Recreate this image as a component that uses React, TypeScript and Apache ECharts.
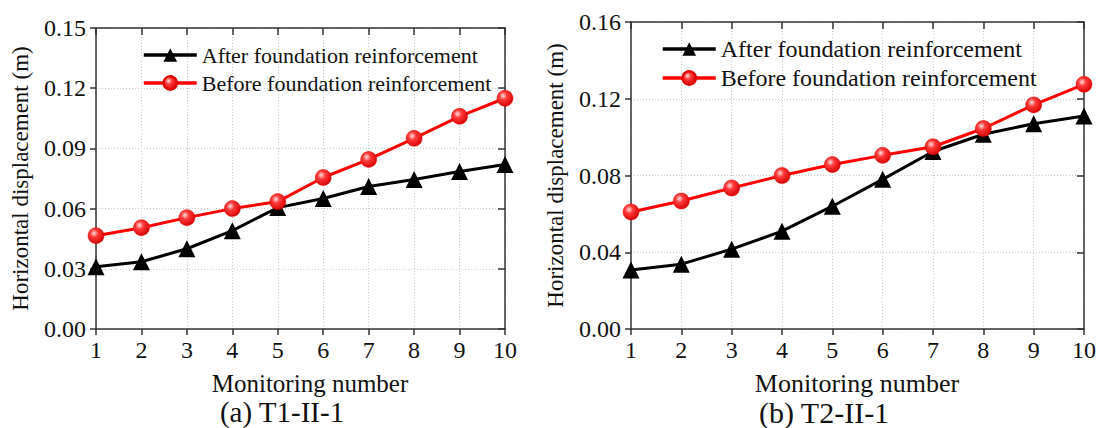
import React, { useEffect, useRef } from "react";
import * as echarts from "echarts";

const monitoringNumbers = [1, 2, 3, 4, 5, 6, 7, 8, 9, 10];
const t1After = [0.031, 0.0335, 0.040, 0.049, 0.0605, 0.065, 0.071, 0.0745, 0.0785, 0.082];
const t1Before = [0.0465, 0.0505, 0.0555, 0.060, 0.0635, 0.0755, 0.0845, 0.095, 0.106, 0.115];
const t2After = [0.0307, 0.0338, 0.0416, 0.051, 0.064, 0.078, 0.0925, 0.1015, 0.107, 0.111];
const t2Before = [0.061, 0.0667, 0.0735, 0.080, 0.0857, 0.0905, 0.095, 0.1045, 0.1168, 0.1275];
const seriesNames = ["After foundation reinforcement", "Before foundation reinforcement"];
const xTitle = "Monitoring number";
const yTitle = "Horizontal displacement (m)";
const captions = ["(a) T1-II-1", "(b) T2-II-1"];

const FONT = "'Liberation Serif', 'Times New Roman', serif";
const AXIS_COLOR = "#333";
const TEXT = "#111";

const redBall = {
  type: "radial",
  x: 0.38,
  y: 0.35,
  r: 0.7,
  colorStops: [
    { offset: 0, color: "#ffe0e0" },
    { offset: 0.35, color: "#ff3a3a" },
    { offset: 1, color: "#d40000" },
  ],
};

function pairs(ys: number[]) {
  return monitoringNumbers.map((x, i) => [x, ys[i]]);
}

export default function App() {
  const ref = useRef<HTMLDivElement>(null);
  useEffect(() => {
    if (!ref.current) return;
    const chart = echarts.init(ref.current, null, { renderer: "svg" });
    const grids = [
      { left: 96, top: 28, width: 409, height: 301 },
      { left: 631, top: 22, width: 455, height: 307 },
    ];
    const yMax = [0.15, 0.16];
    const yInt = [0.03, 0.04];
    const xAxes: any[] = [];
    const yAxes: any[] = [];
    [0, 1].forEach((g) => {
      xAxes.push({
        type: "value",
        gridIndex: g,
        min: 1,
        max: 10,
        interval: 1,
        axisLine: { show: true, lineStyle: { color: AXIS_COLOR, width: 1.5 } },
        axisTick: { show: true, inside: false, length: 6, lineStyle: { color: AXIS_COLOR, width: 1.5 } },
        axisLabel: { fontFamily: FONT, fontSize: 24, color: TEXT, margin: 9 },
        splitLine: { show: true, lineStyle: { color: "#c8c8c8", type: [1, 2], width: 1 } },
      });
      xAxes.push({
        type: "value",
        gridIndex: g,
        position: "top",
        min: 1,
        max: 10,
        interval: 1,
        axisLine: { show: true, onZero: false, lineStyle: { color: AXIS_COLOR, width: 1.5 } },
        axisTick: { show: true, inside: true, length: 7, lineStyle: { color: AXIS_COLOR, width: 1.5 } },
        axisLabel: { show: false },
        splitLine: { show: false },
      });
      yAxes.push({
        type: "value",
        gridIndex: g,
        min: 0,
        max: yMax[g],
        interval: yInt[g],
        name: yTitle,
        nameLocation: "middle",
        nameGap: 64,
        nameTextStyle: { fontFamily: FONT, fontSize: 23, color: TEXT },
        axisLine: { show: true, lineStyle: { color: AXIS_COLOR, width: 1.5 } },
        axisTick: { show: true, inside: false, length: 6, lineStyle: { color: AXIS_COLOR, width: 1.5 } },
        axisLabel: {
          fontFamily: FONT,
          fontSize: 24,
          color: TEXT,
          margin: 10,
          formatter: (v: number) => v.toFixed(2),
        },
        splitLine: { show: true, lineStyle: { color: "#c8c8c8", type: [1, 2], width: 1 } },
      });
      yAxes.push({
        type: "value",
        gridIndex: g,
        position: "right",
        min: 0,
        max: yMax[g],
        interval: yInt[g],
        axisLine: { show: true, onZero: false, lineStyle: { color: AXIS_COLOR, width: 1.5 } },
        axisTick: { show: true, inside: true, length: 7, lineStyle: { color: AXIS_COLOR, width: 1.5 } },
        axisLabel: { show: false },
        splitLine: { show: false },
      });
    });

    const mkSeries = (g: number, after: number[], before: number[]) => [
      {
        name: seriesNames[0] + (g === 1 ? " " : ""),
        type: "line",
        xAxisIndex: g * 2,
        yAxisIndex: g * 2,
        data: pairs(after),
        symbol: "triangle",
        symbolSize: 17,
        lineStyle: { color: "#000", width: 3 },
        itemStyle: { color: "#000" },
        z: 3,
      },
      {
        name: seriesNames[1] + (g === 1 ? " " : ""),
        type: "line",
        xAxisIndex: g * 2,
        yAxisIndex: g * 2,
        data: pairs(before),
        symbol: "circle",
        symbolSize: 16,
        lineStyle: { color: "#ff0000", width: 3 },
        itemStyle: { color: redBall, borderColor: "#e00000", borderWidth: 0.5 },
        z: 4,
      },
    ];

    const legendBase = {
      orient: "vertical",
      itemWidth: 53,
      itemHeight: 17,
      padding: 0,
      lineStyle: { width: 3.5 },
    };

    const textEl = (text: string, x: number, y: number, size: number) => ({
      type: "text",
      x,
      y,
      style: {
        text,
        fontFamily: FONT,
        fontSize: size,
        fill: TEXT,
        align: "center",
        verticalAlign: "middle",
      },
    });

    chart.setOption({
      animation: false,
      backgroundColor: "#fff",
      grid: grids,
      xAxis: xAxes,
      yAxis: yAxes,
      legend: [
        {
          ...legendBase,
          left: 142,
          top: 44,
          itemGap: 6,
          textStyle: { fontFamily: FONT, fontSize: 22, color: TEXT },
          data: [seriesNames[0], seriesNames[1]],
        },
        {
          ...legendBase,
          left: 661,
          top: 37,
          itemGap: 5,
          textStyle: { fontFamily: FONT, fontSize: 24, color: TEXT },
          data: [seriesNames[0] + " ", seriesNames[1] + " "],
        },
      ],
      series: [...mkSeries(0, t1After, t1Before), ...mkSeries(1, t2After, t2Before)],
      graphic: [
        textEl(xTitle, 310, 383, 25),
        textEl(xTitle, 857, 383, 26),
        textEl(captions[0], 282, 412, 29),
        textEl(captions[1], 824, 412, 30),
      ],
    });
    return () => chart.dispose();
  }, []);
  return (
    <div
      ref={ref}
      style={{ position: "fixed", left: 0, top: 0, width: 1099, height: 428, background: "#fff" }}
    />
  );
}
